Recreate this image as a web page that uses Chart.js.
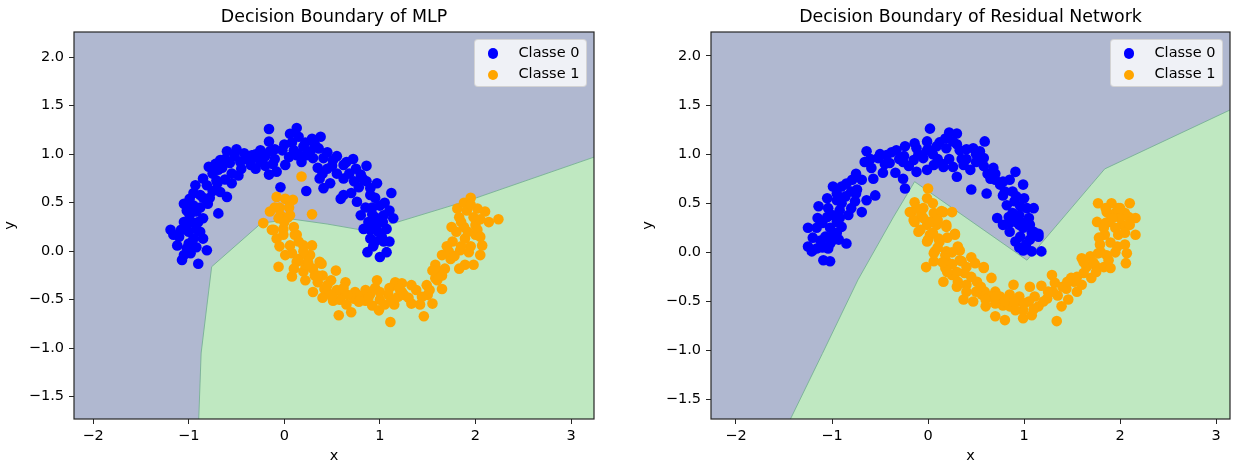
<!DOCTYPE html>
<html>
<head>
<meta charset="utf-8">
<title>Decision Boundary</title>
<script src="https://cdn.jsdelivr.net/npm/chart.js@4.4.1/dist/chart.umd.min.js"></script>
<style>
  body { margin: 0; background: #fff; width: 1243px; height: 468px; position: relative; overflow: hidden; }
  .plot { position: absolute; top: 0; }
  .legend {
    position: absolute; width: 113px; height: 48px; box-sizing: border-box;
    background: rgba(255, 255, 255, 0.8); border: 1px solid rgba(204, 204, 204, 0.8);
    border-radius: 4px; font: 14.5px "DejaVu Sans", sans-serif; color: #000;
  }
  .legend .row { position: absolute; left: 0; width: 100%; height: 20px; line-height: 20px; }
  .legend .dot { position: absolute; left: 12.7px; top: 4.7px; width: 10.6px; height: 10.6px; border-radius: 50%; }
  .legend .label { position: absolute; left: 43.5px; top: -1.5px; white-space: nowrap; }
</style>
</head>
<body>
<canvas id="mlp" class="plot" width="610" height="468" style="left:0"></canvas>
<canvas id="res" class="plot" width="605" height="468" style="left:638px"></canvas>
<div id="legend-mlp" class="legend"></div>
<div id="legend-res" class="legend"></div>
<script>
const seriesNames = ['Classe 0', 'Classe 1'];
const chartTitles = ['Decision Boundary of MLP', 'Decision Boundary of Residual Network'];
const xTicks = [-2, -1, 0, 1, 2, 3];
const yTicks = [-1.5, -1.0, -0.5, 0.0, 0.5, 1.0, 1.5, 2.0];

const mlpXLimits = [-2.2, 3.24];
const mlpYLimits = [-1.73, 2.26];
const resXLimits = [-2.26, 3.144];
const resYLimits = [-1.697, 2.244];

// points
const mlpClass0 = [
  [-0.16,1.26],[-0.16,1.13],[0.13,1.27],[0.06,1.21],[0.15,1.18],[0.29,1.16],[0.38,1.18],[0.36,1.06],
  [0.20,1.08],[0.10,1.04],[-0.02,1.04],[-0.15,1.03],[-0.25,1.04],[-0.34,0.99],[-0.50,1.05],[-0.60,1.03],
  [-0.67,0.94],[-0.79,0.87],[-0.69,0.84],[-0.57,0.91],[-0.46,0.92],[-0.35,0.89],[-0.25,0.92],[-0.16,0.79],
  [-0.08,0.82],[0.01,0.89],[0.13,0.99],[0.23,0.99],[0.30,0.96],[0.41,0.96],[0.51,0.94],[0.62,0.89],
  [0.72,0.95],[0.86,0.88],[0.37,0.75],[0.48,0.70],[0.41,0.65],[0.23,0.62],[-0.04,0.66],[0.62,0.75],
  [0.73,0.72],[0.80,0.79],[0.97,0.70],[1.12,0.60],[0.59,0.54],[0.62,0.58],[0.76,0.51],[0.90,0.58],
  [1.00,0.47],[1.14,0.34],[0.80,0.37],[0.83,0.23],[1.04,0.37],[1.07,0.23],[0.97,0.27],[0.90,0.13],
  [1.04,0.10],[1.07,-0.01],[0.87,-0.01],[1.00,-0.06],[-0.71,0.73],[-0.81,0.68],[-0.93,0.68],[-0.88,0.58],
  [-0.99,0.54],[-1.05,0.49],[-0.60,0.56],[-0.67,0.61],[-0.80,0.49],[-0.69,0.39],[-0.92,0.41],[-0.99,0.37],
  [-0.85,0.34],[-1.19,0.22],[-1.16,0.17],[-1.02,0.22],[-0.92,0.23],[-0.95,0.13],[-0.85,0.13],[-1.12,0.06],
  [-1.02,0.03],[-0.92,0.04],[-0.81,0.01],[-1.07,-0.09],[-0.90,-0.13],[-1.05,-0.04],
  [-0.40,0.95],[-0.30,0.97],[-0.10,0.95],[0.05,0.97],[0.27,1.03],[0.45,0.85],[0.55,0.80],[0.68,0.80],
  [0.78,0.66],[0.86,0.72],[0.92,0.45],[0.95,0.35],[0.88,0.30],[1.02,0.15],[0.93,0.05],[0.98,0.20],
  [-0.55,0.80],[-0.62,0.74],[-0.75,0.62],[-0.85,0.55],[-0.95,0.47],[-0.88,0.45],[-0.97,0.30],[-1.05,0.30],
  [-1.10,0.15],[-1.00,0.08],[-0.45,0.85],[-0.20,0.88],[0.18,0.92],[-0.65,0.86],[0.35,0.86],
  [-0.75,0.80],[-0.72,0.90],[-0.62,0.95],[-0.52,0.98],[-0.42,1.01],[-0.30,1.00],[-0.20,0.98],[-0.10,1.05],
  [0.00,1.10],[0.08,1.12],[0.22,1.12],[0.32,1.10],[0.45,1.02],[0.55,0.98],[0.65,0.92],[0.75,0.85],
  [0.82,0.75],[0.90,0.65],[0.95,0.55],[1.05,0.50],[1.10,0.42],[0.85,0.45],[0.92,0.38],[1.03,0.30],
  [0.95,0.10],[0.90,0.22],[1.10,0.10],[-0.90,0.30],[-1.00,0.20],[-1.08,0.22],[-0.98,-0.02],[-0.88,0.20],
  [-0.78,0.55],[-0.70,0.70],[-0.85,0.75],[-0.95,0.60],[-1.02,0.42],[-0.30,0.85],[0.50,0.88],[0.15,1.00],
  [0.40,0.80],[0.70,0.60],[-0.55,0.70],[-0.48,0.78],[-0.12,0.90]
];
const mlpClass1 = [
  [0.18,0.77],[0.29,0.38],[-0.08,0.56],[0.01,0.54],[0.09,0.53],[0.06,0.37],[-0.15,0.41],[-0.04,0.37],
  [-0.22,0.29],[-0.13,0.22],[-0.01,0.23],[-0.08,0.13],[0.13,0.17],[0.06,0.06],[0.20,0.06],[0.27,-0.04],
  [0.01,-0.04],[-0.06,-0.16],[0.13,-0.11],[0.37,-0.11],[0.54,-0.20],[-0.06,0.34],[0.04,0.35],[-0.11,0.22],
  [-0.01,0.17],[0.11,0.17],[0.29,0.06],[0.15,-0.08],[0.25,-0.06],[0.39,-0.13],[0.08,-0.26],[0.20,-0.21],
  [0.32,-0.25],[0.49,-0.30],[0.64,-0.32],[0.30,-0.42],[0.42,-0.39],[0.51,-0.51],[0.61,-0.45],[0.73,-0.49],
  [0.85,-0.51],[0.97,-0.30],[0.92,-0.56],[0.99,-0.61],[0.57,-0.66],[0.70,-0.63],[1.11,-0.73],[1.09,-0.45],
  [1.16,-0.32],[1.23,-0.33],[1.33,-0.35],[1.19,-0.47],[1.33,-0.54],[1.44,-0.47],[1.46,-0.67],[1.55,-0.54],
  [1.49,-0.35],[1.58,-0.28],[1.65,-0.39],[1.58,-0.14],[1.65,-0.04],[1.74,-0.08],[1.76,0.10],[1.84,0.01],
  [1.89,-0.14],[1.98,-0.14],[1.83,-0.18],[1.93,-0.01],[2.05,-0.04],[1.89,0.13],[2.00,0.17],[2.07,0.06],
  [1.88,0.25],[2.00,0.27],[1.83,0.35],[1.81,0.44],[1.91,0.42],[2.02,0.44],[2.10,0.41],[2.14,0.30],
  [2.24,0.33],[1.95,0.55],[0.22,-0.14],[0.35,-0.32],[0.74,-0.42],[1.23,-0.42],[1.62,-0.21],
  [0.45,-0.42],[0.58,-0.50],[0.66,-0.45],[0.80,-0.46],[0.90,-0.44],[1.00,-0.50],[1.05,-0.55],[1.15,-0.55],
  [1.25,-0.45],[1.38,-0.40],[1.50,-0.45],[1.60,-0.30],[1.68,-0.18],[1.72,0.00],[1.80,0.20],[1.95,0.05],
  [2.02,0.22],[0.05,0.45],[-0.05,0.45],[0.10,0.25],[0.20,0.00],[0.30,-0.18],[0.40,-0.25],[0.22,-0.30],
  [1.98,0.35],[1.88,0.50],[2.05,0.33],[0.85,-0.40],[0.95,-0.38],[1.10,-0.38],
  [-0.10,0.45],[0.00,0.30],[-0.05,0.05],[0.08,-0.02],[0.15,0.10],[0.25,-0.12],[0.10,-0.18],[0.35,-0.25],
  [0.45,-0.35],[0.55,-0.40],[0.65,-0.55],[0.78,-0.52],[0.88,-0.48],[1.00,-0.42],[1.12,-0.50],[1.20,-0.38],
  [1.30,-0.48],[1.42,-0.55],[1.52,-0.40],[1.55,-0.20],[1.65,-0.25],[1.70,0.05],[1.78,-0.05],[1.85,0.05],
  [1.92,0.20],[1.85,0.30],[1.95,0.48],[2.05,0.15],[1.75,0.25],[0.50,-0.47],[0.62,-0.38],[0.40,-0.48]
];
const mlpBoundary = [
  [-0.895,-1.73],[-0.87,-1.05],[-0.76,-0.16],[-0.24,0.29],[0.09,0.33],[0.45,0.28],
  [0.80,0.22],[1.15,0.29],[1.95,0.53],[3.24,0.97]
];

// points
const resClass0 = [
  [0.02,1.26],[0.22,1.22],[0.30,1.21],[0.18,1.16],[0.26,1.13],[0.59,1.13],[-0.01,1.13],[-0.14,1.11],
  [-0.12,1.06],[-0.01,1.04],[0.09,1.08],[0.19,1.06],[0.33,1.04],[0.47,1.06],[0.54,1.03],[0.58,0.96],
  [-0.24,1.08],[-0.33,1.04],[-0.43,0.99],[-0.52,0.96],[-0.64,1.03],[-0.66,0.92],[-0.59,0.86],[-0.40,0.91],
  [-0.26,0.92],[-0.15,0.94],[-0.05,0.96],[0.06,0.89],[0.16,0.87],[0.26,0.87],[0.37,0.89],[0.44,0.84],
  [0.30,0.77],[-0.01,0.84],[-0.12,0.82],[-0.26,0.75],[-0.24,0.65],[-0.34,0.81],[-0.47,0.81],[-0.57,0.75],
  [-0.69,0.74],[-0.79,0.74],[-0.74,0.64],[-0.55,0.58],[-0.64,0.53],[-0.90,0.67],[-0.99,0.67],[-0.86,0.57],
  [-0.95,0.53],[-0.76,0.52],[-0.69,0.41],[-1.14,0.47],[-1.04,0.45],[-0.92,0.43],[-0.83,0.38],[-1.05,0.36],
  [-0.95,0.31],[-1.25,0.25],[-1.16,0.25],[-1.02,0.25],[-0.90,0.26],[-1.07,0.16],[-0.99,0.18],[-0.93,0.13],
  [-0.85,0.09],[-1.02,0.09],[-1.25,0.06],[-1.16,0.04],[-1.21,0.01],[-1.04,0.04],[-1.09,-0.08],[-1.02,-0.09],
  [0.68,0.86],[0.65,0.75],[0.75,0.69],[0.85,0.74],[0.91,0.82],[0.99,0.69],[0.45,0.64],[0.61,0.60],
  [0.78,0.58],[0.92,0.57],[0.82,0.48],[0.96,0.47],[1.03,0.45],[0.72,0.35],[0.84,0.36],[0.92,0.31],
  [0.78,0.28],[0.99,0.25],[1.06,0.28],[0.85,0.21],[0.96,0.16],[1.10,0.21],[1.15,0.19],[0.91,0.11],
  [1.06,0.13],[0.99,0.02],[1.08,0.01],[1.18,0.01],[1.10,0.45],[1.15,0.16],
  [-0.45,0.90],[-0.30,0.95],[0.10,0.95],[0.40,0.95],[0.50,0.92],[0.62,0.80],[0.70,0.74],[0.80,0.62],
  [0.88,0.40],[0.95,0.38],[1.00,0.30],[-0.80,0.62],[-0.90,0.50],[-1.00,0.38],[-1.10,0.30],[-1.12,0.12],
  [-0.95,0.20],[0.05,1.00],[0.22,0.95],[-0.20,0.88],
  [-1.20,0.15],[-1.10,0.05],[-1.15,0.35],[-1.05,0.55],[-0.95,0.60],[-0.85,0.70],[-0.75,0.80],[-0.60,0.95],
  [-0.50,1.00],[-0.38,1.02],[-0.25,0.98],[-0.10,1.00],[0.00,1.05],[0.12,1.12],[0.30,1.10],[0.40,1.05],
  [0.50,1.00],[0.58,0.88],[0.70,0.80],[0.78,0.72],[0.88,0.62],[0.90,0.52],[1.00,0.55],[0.85,0.30],
  [0.95,0.28],[1.05,0.35],[1.08,0.20],[1.02,0.08],[0.95,0.05],[-0.80,0.45],[-0.75,0.60],[-0.92,0.35],
  [-1.00,0.12],[0.35,0.95],[0.15,0.90]
];
const resClass1 = [
  [0.00,0.65],[-0.14,0.51],[-0.01,0.55],[-0.17,0.41],[-0.07,0.38],[0.06,0.40],[0.16,0.41],[0.25,0.41],
  [-0.14,0.31],[-0.01,0.28],[0.09,0.28],[0.19,0.28],[-0.10,0.21],[0.02,0.18],[0.28,0.19],[-0.01,0.11],
  [0.12,0.11],[0.07,0.01],[0.19,0.01],[0.33,0.02],[0.06,-0.09],[0.19,-0.09],[0.35,-0.09],[0.49,-0.11],
  [0.58,-0.15],[-0.02,-0.15],[-0.19,0.41],[-0.15,0.33],[-0.08,0.23],[0.02,0.31],[0.14,0.42],[0.19,0.26],
  [0.28,0.18],[0.00,0.13],[0.11,0.14],[0.06,-0.01],[0.18,-0.03],[0.31,0.06],[0.33,-0.08],[0.18,-0.16],
  [0.25,-0.23],[0.16,-0.30],[0.31,-0.30],[0.38,-0.21],[0.58,-0.16],[0.40,-0.33],[0.51,-0.30],[0.66,-0.26],
  [0.37,-0.48],[0.47,-0.50],[0.56,-0.43],[0.70,-0.52],[0.78,-0.54],[0.59,-0.40],[0.70,-0.40],[0.89,-0.33],
  [0.85,-0.43],[0.94,-0.50],[0.99,-0.59],[0.91,-0.59],[0.70,-0.65],[0.80,-0.69],[0.99,-0.67],[1.08,-0.64],
  [1.06,-0.35],[1.11,-0.45],[1.18,-0.34],[1.29,-0.23],[1.32,-0.31],[1.24,-0.47],[1.35,-0.44],[1.39,-0.55],
  [1.34,-0.70],[1.46,-0.48],[1.44,-0.37],[1.49,-0.26],[1.55,-0.40],[1.60,-0.33],[1.62,-0.21],[1.70,-0.26],
  [1.60,-0.06],[1.69,-0.04],[1.74,-0.13],[1.83,-0.15],[1.90,-0.16],[1.77,-0.01],[1.86,-0.03],[1.79,0.08],
  [1.84,0.18],[1.83,0.25],[1.97,0.06],[2.05,0.08],[2.07,-0.01],[2.06,-0.11],[1.98,0.18],[2.16,0.18],
  [2.02,0.28],[2.09,0.36],[2.16,0.35],[1.88,0.31],[1.76,0.31],[1.86,0.41],[1.95,0.40],[2.05,0.40],
  [1.77,0.50],[1.91,0.50],[1.98,0.45],[2.10,0.50],
  [0.05,0.50],[-0.05,0.45],[0.10,0.33],[0.20,0.15],[0.25,0.00],[0.40,-0.15],[0.45,-0.25],[0.55,-0.35],
  [0.65,-0.45],[0.75,-0.45],[0.85,-0.55],[0.95,-0.45],[1.05,-0.50],[1.15,-0.55],[1.25,-0.40],[1.40,-0.35],
  [1.52,-0.30],[1.65,-0.15],[1.75,-0.20],[1.80,0.00],[1.90,0.10],[1.95,0.25],[2.00,0.35],[1.85,0.45],
  [2.10,0.28],[0.30,-0.20],[0.60,-0.55],
  [-0.12,0.45],[-0.05,0.35],[0.05,0.20],[0.10,0.05],[0.15,-0.10],[0.25,-0.12],[0.30,-0.35],[0.40,-0.40],
  [0.50,-0.40],[0.60,-0.48],[0.70,-0.45],[0.80,-0.50],[0.90,-0.50],[1.00,-0.52],[1.10,-0.58],[1.20,-0.50],
  [1.30,-0.40],[1.45,-0.30],[1.55,-0.25],[1.62,-0.10],[1.72,-0.10],[1.78,0.15],[1.85,0.30],[1.92,0.35],
  [2.00,0.45],[2.05,0.20],[1.95,0.00],[1.88,-0.08],[0.45,-0.05],[0.20,-0.20]
];
const resBoundary = [
  [-1.434,-1.70],[-1.10,-1.03],[-0.73,-0.28],[-0.36,0.36],[-0.14,0.72],[1.03,-0.08],
  [1.70,0.69],[1.84,0.85],[3.144,1.45]
];

const FONT = '"DejaVu Sans", sans-serif';
const COLORS = ['#0000ff', '#ffa500'];
const AREA_CLASS0 = '#b0b8d0';
const AREA_CLASS1 = '#bfe8c1';

function toPoints(list) {
    return list.map(p => ({ x: p[0], y: p[1] }));
}

function minus(text) {
    return String(text).replace('-', '\u2212');
}

// class 0 region behind everything, axes frame on top
const areaPlugin = {
    id: 'area',
    beforeDraw(chart) {
        const { ctx, chartArea: a } = chart;
        ctx.save();
        ctx.fillStyle = AREA_CLASS0;
        ctx.fillRect(a.left, a.top, a.width, a.height);
        ctx.restore();
    },
    afterDraw(chart) {
        const { ctx, chartArea: a } = chart;
        ctx.save();
        ctx.strokeStyle = '#262626';
        ctx.lineWidth = 1.2;
        ctx.strokeRect(a.left, a.top, a.width, a.height);
        ctx.restore();
    }
};

function renderLegend(legendId, canvas, chart) {
    const box = document.getElementById(legendId);
    let html = '';
    seriesNames.forEach((name, i) => {
        html += `<div class="row" style="top:${3 + i * 21.7}px">
                    <span class="dot" style="background:${COLORS[i]}"></span>
                    <span class="label">${name}</span>
                 </div>`;
    });
    box.innerHTML = html;
    const left = canvas.offsetLeft + chart.chartArea.right - 7 - 113;
    box.style.left = left + 'px';
    box.style.top = (chart.chartArea.top + 7.3) + 'px';
}

function drawChart(canvasId, legendId, title, class0, class1, boundary, xLim, yLim, yAxisWidth, padRight) {
    const canvas = document.getElementById(canvasId);
    const tickFont = { family: FONT, size: 14.5 };
    const chart = new Chart(canvas.getContext('2d'), {
        type: 'scatter',
        data: {
            datasets: [{
                label: seriesNames[0],
                data: toPoints(class0),
                backgroundColor: COLORS[0],
                borderWidth: 0,
                pointRadius: 5.3,
                pointHoverRadius: 5.3,
                order: 2
            }, {
                label: seriesNames[1],
                data: toPoints(class1),
                backgroundColor: COLORS[1],
                borderWidth: 0,
                pointRadius: 5.3,
                pointHoverRadius: 5.3,
                order: 1
            }, {
                type: 'line',
                label: 'boundary',
                data: toPoints(boundary),
                showLine: true,
                fill: 'start',
                backgroundColor: AREA_CLASS1,
                borderColor: 'rgba(120, 176, 150, 0.9)',
                borderWidth: 1,
                pointRadius: 0,
                tension: 0,
                order: 3
            }]
        },
        options: {
            responsive: false,
            animation: false,
            events: [],
            layout: { padding: { left: 0, right: padRight, top: 0, bottom: 0 } },
            plugins: {
                legend: { display: false },
                tooltip: { enabled: false },
                title: {
                    display: true,
                    text: title,
                    fullSize: false,
                    color: '#000',
                    font: { family: FONT, size: 17.4, weight: 'normal', lineHeight: '21px' },
                    padding: { top: 7, bottom: 4 }
                }
            },
            scales: {
                x: {
                    type: 'linear',
                    min: xLim[0],
                    max: xLim[1],
                    afterBuildTicks: s => { s.ticks = xTicks.map(v => ({ value: v })); },
                    afterFit: s => { s.height = 49; },
                    ticks: { color: '#000', font: tickFont, padding: 4, maxRotation: 0, autoSkip: false,
                             callback: v => minus(v) },
                    grid: { drawOnChartArea: false, drawTicks: true, tickLength: 5, color: '#262626', tickColor: '#262626' },
                    border: { display: false },
                    title: { display: true, text: 'x', color: '#000', font: tickFont, padding: { top: 0, bottom: 2.6 } }
                },
                y: {
                    type: 'linear',
                    min: yLim[0],
                    max: yLim[1],
                    afterBuildTicks: s => { s.ticks = yTicks.map(v => ({ value: v })); },
                    afterFit: s => { s.width = yAxisWidth; },
                    ticks: { color: '#000', font: tickFont, padding: 5, autoSkip: false,
                             callback: v => minus(v.toFixed(1)) },
                    grid: { drawOnChartArea: false, drawTicks: true, tickLength: 5, color: '#262626', tickColor: '#262626' },
                    border: { display: false },
                    title: { display: true, text: 'y', color: '#000', font: tickFont, padding: { top: 1.5, bottom: 0 } }
                }
            }
        },
        plugins: [areaPlugin]
    });
    renderLegend(legendId, canvas, chart);
    return chart;
}

drawChart('mlp', 'legend-mlp', chartTitles[0], mlpClass0, mlpClass1, mlpBoundary, mlpXLimits, mlpYLimits, 74, 16);
drawChart('res', 'legend-res', chartTitles[1], resClass0, resClass1, resBoundary, resXLimits, resYLimits, 73, 13);
</script>
</body>
</html>
